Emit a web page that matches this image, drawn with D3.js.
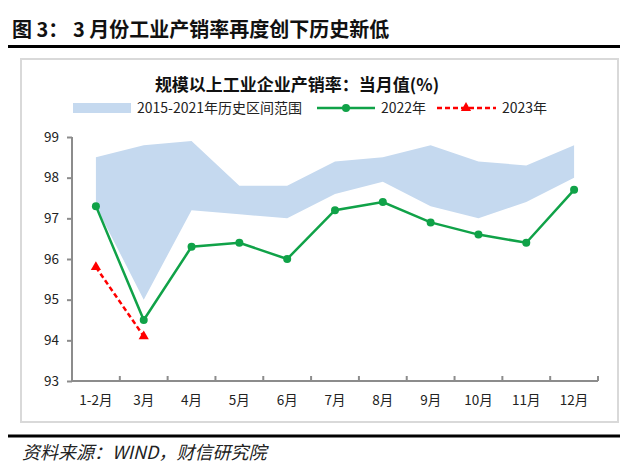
<!DOCTYPE html>
<html><head><meta charset="utf-8">
<script src="https://cdn.jsdelivr.net/npm/d3@7"></script>
<style>
body{margin:0;background:#fff;}
svg{display:block;font-family:"Noto Sans CJK SC","Noto Sans",sans-serif;}
</style></head>
<body><svg id="c" width="640" height="472"></svg>
<script>
const categories = ["1-2月","3月","4月","5月","6月","7月","8月","9月","10月","11月","12月"];
const rangeHigh = [98.5,98.8,98.9,97.8,97.8,98.4,98.5,98.8,98.4,98.3,98.8];
const rangeLow  = [97.3,95.0,97.2,97.1,97.0,97.6,97.9,97.3,97.0,97.4,98.0];
const values2022 = [97.3,94.5,96.3,96.4,96.0,97.2,97.4,96.9,96.6,96.4,97.7];
const values2023 = [95.8,94.1];
const yTicks = [93,94,95,96,97,98,99];

const svg = d3.select("#c");
// header
svg.append("text").attr("x",12).attr("y",37).attr("font-size",20).attr("font-weight","bold")
  .attr("fill","#111").text("图 3： 3 月份工业产销率再度创下历史新低");
svg.append("line").attr("x1",8).attr("x2",620).attr("y1",46.5).attr("y2",46.5).attr("stroke","#000").attr("stroke-width",3);
// frame
svg.append("rect").attr("x",21).attr("y",59).attr("width",597).attr("height",363)
  .attr("fill","none").attr("stroke","#d9d9d9").attr("stroke-width",2);
// footer
svg.append("line").attr("x1",8).attr("x2",620).attr("y1",436).attr("y2",436).attr("stroke","#000").attr("stroke-width",3);
svg.append("text").attr("x",22).attr("y",459).attr("font-size",18).attr("font-style","italic")
  .attr("font-family","'Noto Sans CJK SC','DejaVu Serif',serif").attr("fill","#222")
  .text("资料来源：WIND，财信研究院");

// chart title
svg.append("text").attr("x",297).attr("y",91).attr("text-anchor","middle").attr("font-size",17)
  .attr("font-weight","bold").attr("fill","#111").text("规模以上工业企业产销率：当月值(%)");

const x = d3.scaleBand().domain(categories).range([72,598]);
const y = d3.scaleLinear().domain([93,99]).range([381,137]);
const cx = d => x(d) + x.bandwidth()/2;

// axes
const gy = svg.append("g").attr("transform","translate(72,0)")
  .call(d3.axisLeft(y).tickValues(yTicks).tickSize(5).tickPadding(8).tickFormat(d3.format("d")));
const gx = svg.append("g").attr("transform","translate(0,381)")
  .call(d3.axisBottom(x).tickSize(5).tickPadding(9));
[gy,gx].forEach(g=>{
  g.selectAll("path,line").attr("stroke","#8c8c8c").attr("stroke-width",2);
  g.selectAll("text").attr("font-size",13.5).attr("fill","#222").attr("font-family","'Noto Sans CJK SC',sans-serif");
});
gx.selectAll(".tick line").remove();
const bounds = categories.map(c=>x(c)).concat([x.range()[1]]);
gx.selectAll(".bt").data(bounds).enter().append("line").attr("class","bt")
  .attr("x1",d=>d).attr("x2",d=>d).attr("y1",0).attr("y2",-5)
  .attr("stroke","#8c8c8c").attr("stroke-width",2);
gx.select("path").attr("d","M72,0H598");
gy.select("path").attr("d","M0,137V381");
gy.selectAll(".tick line").attr("x2",-5);

// band
const area = d3.area().x((d,i)=>cx(categories[i])).y0((d,i)=>y(rangeLow[i])).y1(d=>y(d));
svg.append("path").datum(rangeHigh).attr("d",area).attr("fill","#c5d9ef");

// 2022
const line = d3.line().x((d,i)=>cx(categories[i])).y(d=>y(d));
svg.append("path").datum(values2022).attr("d",line).attr("fill","none").attr("stroke","#10a248").attr("stroke-width",2.5);
svg.selectAll(".p22").data(values2022).enter().append("circle")
  .attr("cx",(d,i)=>cx(categories[i])).attr("cy",d=>y(d)).attr("r",4).attr("fill","#10a248");

// 2023
svg.append("path").datum(values2023).attr("d",line).attr("fill","none").attr("stroke","#ff0000")
  .attr("stroke-width",2.5).attr("stroke-dasharray","5,3");
const tri = d3.symbol().type(d3.symbolTriangle).size(45);
svg.selectAll(".p23").data(values2023).enter().append("path").attr("d",tri)
  .attr("transform",(d,i)=>`translate(${cx(categories[i])},${y(d)})`).attr("fill","#ff0000");

// legend
const ly = 108;
svg.append("rect").attr("x",73).attr("y",ly-5).attr("width",58).attr("height",10).attr("fill","#c5d9ef");
svg.append("text").attr("x",137).attr("y",ly+5).attr("font-size",14).attr("fill","#222").text("2015-2021年历史区间范围");
svg.append("line").attr("x1",317).attr("x2",375).attr("y1",ly).attr("y2",ly).attr("stroke","#10a248").attr("stroke-width",2.5);
svg.append("circle").attr("cx",346).attr("cy",ly).attr("r",4).attr("fill","#10a248");
svg.append("text").attr("x",381).attr("y",ly+5).attr("font-size",14).attr("fill","#222").text("2022年");
svg.append("line").attr("x1",437).attr("x2",496).attr("y1",ly).attr("y2",ly).attr("stroke","#ff0000").attr("stroke-width",2.5).attr("stroke-dasharray","5,3");
svg.append("path").attr("d",tri).attr("transform",`translate(466,${ly})`).attr("fill","#ff0000");
svg.append("text").attr("x",502).attr("y",ly+5).attr("font-size",14).attr("fill","#222").text("2023年");
</script></body></html>
